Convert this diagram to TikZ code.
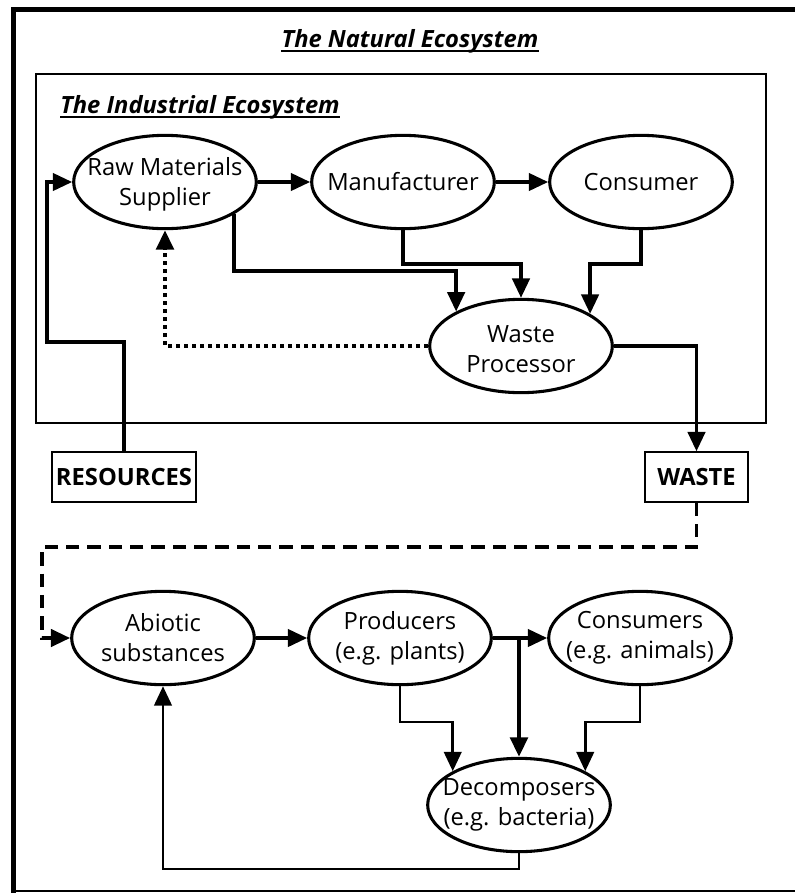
\documentclass[tikz,border=0pt]{standalone}
\usepackage{fontspec}
\setmainfont{Open Sans}
\usetikzlibrary{shapes.geometric, arrows.meta}
\begin{document}
\begin{tikzpicture}[x=0.75pt, y=-0.75pt,
  line join=miter,
  tip/.style={-{Triangle[length=14.5pt, width=13pt]}},
  flow/.style={tip, line width=2.5pt},
  ell/.style={draw, ellipse, line width=2.3pt, minimum width=137pt, minimum height=70pt, inner sep=0pt},
  etext/.style={align=center, font=\fontsize{17.8pt}{22.5pt}\selectfont},
  tagbox/.style={draw, line width=1.1pt, minimum width=#1, minimum height=37.5pt, inner sep=0pt,
                 font=\fontsize{17.8pt}{22pt}\selectfont\bfseries},
  heading/.style={inner sep=0pt, font=\fontsize{17.8pt}{22pt}\selectfont\bfseries\itshape},
  uline/.style={line width=1.6pt}
]
\useasboundingbox (0,0) rectangle (795,893);

% outer frame: heavy top and left edges, light bottom edge
\draw[line width=3.75pt] (11,9.5) -- (795,9.5);
\draw[line width=3.75pt] (13,7) -- (13,893);
\draw[line width=1.2pt] (13,891) -- (795,891);

% industrial ecosystem frame
\draw[line width=1.1pt] (36,74) rectangle (766,423);

% headings
\node[heading, anchor=base] (nat) at (410,47) {The Natural Ecosystem};
\draw[uline] ([yshift=-3.2pt]nat.base west) -- ([yshift=-3.2pt]nat.base east);
\node[heading, anchor=base west] (ind) at (60,113) {The Industrial Ecosystem};
\draw[uline] ([yshift=-3.2pt]ind.base west) -- ([yshift=-3.2pt]ind.base east);

% industrial nodes
\node[ell, label={[etext, yshift=-1.5pt]center:Raw Materials\\Supplier}] (sup) at (165,182) {};
\node[ell, label={[etext]center:Manufacturer}] (man) at (403,182) {};
\node[ell, label={[etext]center:Consumer}] (con) at (641,182) {};
\node[ell, label={[etext, yshift=-2pt]center:Waste\\Processor}] (wp) at (521,346) {};

\node[tagbox=108pt] (res) at (124,477) {RESOURCES};
\node[tagbox=77pt] (waste) at (696.5,477) {WASTE};

% natural nodes
\node[ell, label={[etext]center:Abiotic\\substances}] (abi) at (163,638) {};
\node[ell, label={[etext]center:Producers\\(e.g. plants)}] (pro) at (400,638) {};
\node[ell, label={[etext]center:Consumers\\(e.g. animals)}] (cns) at (640,638) {};
\node[ell, label={[etext]center:Decomposers\\(e.g. bacteria)}] (dec) at (519,805) {};

% industrial flows
\draw[flow] (res.north) |- (47,342) |- (sup.west);
\draw[flow] (sup.east) -- (man.west);
\draw[flow] (man.east) -- (con.west);
\draw[flow] (sup.-25) |- (wp.152 |- 0,271) -- (wp.152);
\draw[flow] (man.south) |- (wp.north |- 0,264) -- (wp.north);
\draw[flow] (con.south) |- (wp.25 |- 0,264) -- (wp.25);
\draw[tip, line width=3pt, dash pattern=on 3pt off 3pt] (wp.west) -| (sup.south);
\draw[flow] (wp.east) -| (waste.north);

% waste returning to nature
\draw[tip, line width=2.8pt, dash pattern=on 10pt off 6pt] (waste.south) |- (42,547) |- (abi.west);

% natural flows
\draw[flow] (abi.east) -- (pro.west);
\draw[flow] (pro.east) -- (cns.west);
\draw[flow, line width=3.1pt] (pro.east -| dec.north) -- (dec.north);
\draw[flow, line width=2.2pt] (pro.south) |- (dec.153 |- 0,722) -- (dec.153);
\draw[flow, line width=2.2pt] (cns.south) |- (dec.27 |- 0,722) -- (dec.27);
\draw[flow, line width=2.2pt] (dec.south) -- (dec.south |- 0,869) -| (abi.south);
\end{tikzpicture}
\end{document}
